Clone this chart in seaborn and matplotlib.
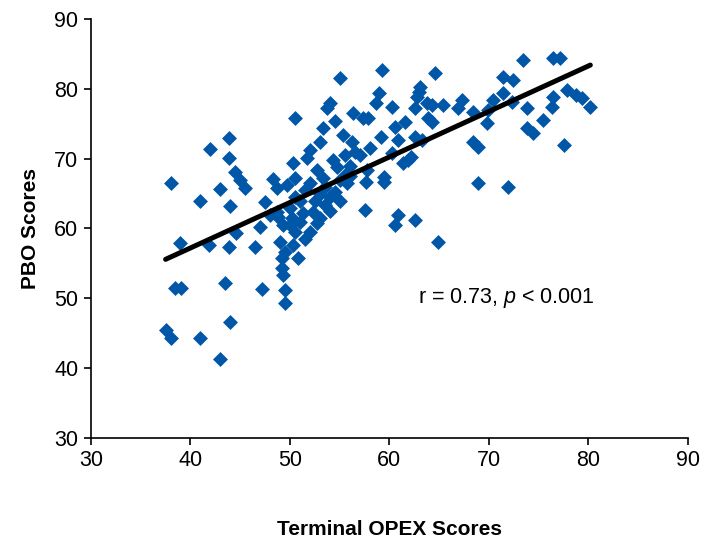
import numpy as np
import pandas as pd
import matplotlib
matplotlib.use("Agg")
import matplotlib.pyplot as plt
import seaborn as sns

# Terminal OPEX scores (x) and PBO scores (y)
opex = [
    38.0, 37.5, 38.0, 38.9, 38.4, 39.1, 41.0, 41.0, 42.0, 41.9,
    43.0, 43.5, 44.0, 43.0, 43.9, 43.9, 44.5, 45.0, 45.5, 44.0,
    43.9, 44.6, 46.5, 47.0, 47.5, 47.2, 48.3, 48.8, 49.3, 49.5,
    49.5, 50.5, 48.0,
    55.0, 53.7, 54.5, 55.3, 56.2, 56.3, 57.3, 53.3, 53.0, 52.0,
    51.7, 50.3, 50.5, 52.7, 53.3, 54.3, 54.7, 55.7, 57.7, 54.0,
    59.3, 64.6, 63.1, 59.0, 58.7, 60.3, 62.8, 62.6, 65.4, 63.9,
    61.6, 57.8, 60.6, 59.2, 60.9, 62.6, 60.3, 61.9, 59.5,
    48.7, 49.7, 48.7, 50.2, 51.3, 52.7, 52.3, 53.5, 54.5, 55.7,
    49.3, 49.0, 50.3, 49.5, 50.8, 49.2, 49.2,
    57.5, 60.9, 60.6, 62.6, 64.9, 57.6, 59.5,
    73.4, 76.4, 77.1, 71.4, 72.4, 67.3, 66.9, 64.3, 64.3, 68.4,
    70.4, 71.4, 72.3, 69.9, 69.8, 73.8, 76.4, 76.3, 75.4, 73.8,
    74.4, 77.9, 78.8, 79.4, 80.2, 68.4, 68.9, 77.6, 68.9, 71.9,
    63.3, 61.4, 62.2, 63.0, 63.8,
    51.0, 51.5, 52.0, 52.5, 53.0, 53.5, 54.0, 55.0, 56.0, 50.0,
    50.5, 51.0, 52.0, 53.0, 54.0, 55.0, 56.0, 57.0, 58.0, 56.5,
    55.5, 50.5, 51.5, 50.0,
]
pbo = [
    66.5, 45.5, 44.3, 57.9, 51.5, 51.5, 44.3, 64.0, 71.4, 57.7,
    41.3, 52.2, 46.6, 65.7, 73.0, 70.1, 68.1, 67.0, 65.8, 63.2,
    57.4, 59.4, 57.4, 60.2, 63.8, 51.3, 67.1, 61.7, 53.4, 51.2,
    49.3, 75.8, 62.0,
    81.6, 77.3, 75.4, 73.4, 72.4, 76.6, 75.8, 74.4, 72.4, 71.3,
    70.1, 69.4, 67.2, 68.4, 67.2, 69.8, 68.8, 68.0, 68.4, 78.0,
    82.7, 82.3, 80.3, 79.4, 78.0, 77.4, 78.9, 77.3, 77.7, 75.8,
    75.3, 75.8, 74.6, 73.1, 72.7, 73.1, 70.8, 69.8, 67.4,
    65.8, 66.2, 62.4, 61.5, 62.2, 60.8, 62.4, 63.4, 65.2, 66.5,
    60.5, 58.1, 57.7, 56.6, 55.8, 55.8, 54.4,
    62.7, 61.9, 60.5, 61.2, 58.1, 66.7, 66.7,
    84.2, 84.4, 84.4, 81.7, 81.3, 78.4, 77.3, 77.7, 75.3, 76.7,
    78.4, 79.4, 78.1, 77.0, 75.1, 77.3, 78.9, 77.4, 75.6, 74.4,
    73.7, 79.9, 79.1, 78.7, 77.4, 72.4, 71.7, 72.0, 66.5, 66.0,
    72.7, 69.4, 70.3, 79.5, 78.0,
    64.0, 65.5, 66.5, 64.0, 65.0, 66.0, 64.5, 67.0, 67.5, 63.0,
    64.5, 61.0, 59.5, 61.5, 62.5, 64.0, 69.0, 70.5, 71.5, 71.0,
    70.5, 59.5, 58.5, 60.5,
]

x_ticks = [30, 40, 50, 60, 70, 80, 90]
y_ticks = [30, 40, 50, 60, 70, 80, 90]
annotation = "r = 0.73, $\\mathit{p}$ < 0.001"

df = pd.DataFrame({"Terminal OPEX Scores": opex, "PBO Scores": pbo})

sns.set_style("ticks")
plt.rcParams["font.family"] = ["Liberation Sans", "DejaVu Sans"]
plt.rcParams["mathtext.fontset"] = "custom"
plt.rcParams["mathtext.rm"] = "Liberation Sans"
plt.rcParams["mathtext.it"] = "Liberation Sans:italic"
plt.rcParams["text.color"] = "black"
plt.rcParams["axes.labelcolor"] = "black"
plt.rcParams["xtick.color"] = "black"
plt.rcParams["ytick.color"] = "black"

fig = plt.figure(figsize=(7.08, 5.43), dpi=100)
ax = fig.add_axes([0.1285, 0.1934, 0.843, 0.7716])

sns.scatterplot(data=df, x="Terminal OPEX Scores", y="PBO Scores", marker="D",
                s=58, color="#0057A8", linewidth=0, ax=ax, zorder=2)
sns.regplot(data=df, x="Terminal OPEX Scores", y="PBO Scores", scatter=False,
            ci=None, color="black", line_kws={"linewidth": 3.6, "zorder": 3}, ax=ax)

ax.set_xlim(30, 90)
ax.set_ylim(30, 90)
ax.set_xticks(x_ticks)
ax.set_yticks(y_ticks)
ax.tick_params(axis="both", labelsize=15.5, length=5, width=1.2, colors="black", pad=4)
for side in ["top", "right"]:
    ax.spines[side].set_visible(False)
for side in ["left", "bottom"]:
    ax.spines[side].set_linewidth(1.2)
    ax.spines[side].set_color("black")

ax.set_xlabel("Terminal OPEX Scores", fontsize=15, fontweight="bold", labelpad=35)
ax.set_ylabel("PBO Scores", fontsize=15, fontweight="bold", labelpad=10)

ax.text(62.9, 50.1, annotation, fontsize=15.5, va="center", ha="left")

fig.savefig("out.png", dpi=100)
